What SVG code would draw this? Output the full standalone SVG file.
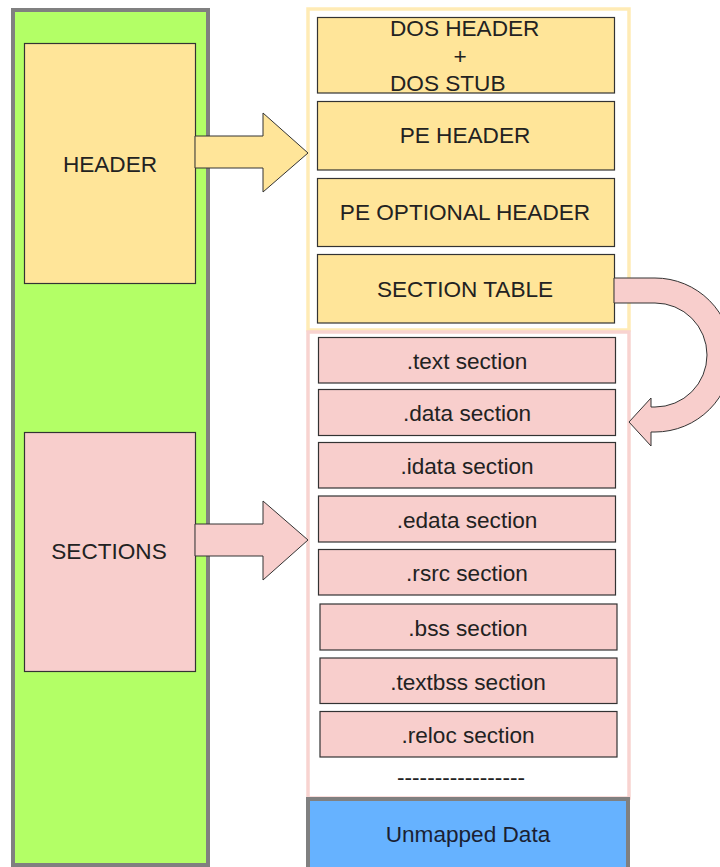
<svg xmlns="http://www.w3.org/2000/svg" width="720" height="867" viewBox="0 0 720 867">
  <style>
    text { font-family: "Liberation Sans", Arial, sans-serif; font-size: 22.6px; fill: #222; text-anchor: middle; }
    .hdr { fill: #ffe599; stroke: #333; stroke-width: 1.2; }
    .sec { fill: #f8cecc; stroke: #333; stroke-width: 1.2; }
    .harrow { fill: #ffe599; stroke: #333; stroke-width: 1; }
    .sarrow { fill: #f8cecc; stroke: #333; stroke-width: 1; }
  </style>

  <!-- file on disk: green column -->
  <g id="file-column">
    <rect x="13" y="10" width="195" height="855" fill="#b3ff66" stroke="#808080" stroke-width="4"/>
  </g>

  <g id="header-block">
    <rect class="hdr" x="24.5" y="43.5" width="171" height="240"/>
    <text x="110" y="172">HEADER</text>
  </g>

  <g id="sections-block">
    <rect class="sec" x="24.5" y="432.5" width="171" height="239"/>
    <text x="109" y="559">SECTIONS</text>
  </g>

  <!-- header breakdown container -->
  <g id="header-container">
    <rect x="308" y="9" width="321" height="321" fill="#fff" stroke="#ffebb5" stroke-width="3.5"/>
  </g>

  <!-- section breakdown container -->
  <g id="sections-container">
    <rect x="308" y="332" width="321" height="466" fill="#fff" stroke="#f8d3d0" stroke-width="3.5"/>
  </g>

  <g id="dos">
    <rect class="hdr" x="317.5" y="17.5" width="297" height="75.5"/>
    <text x="390" y="36" style="text-anchor:start">DOS HEADER</text>
    <text x="460" y="64">+</text>
    <text x="390" y="90.5" style="text-anchor:start">DOS STUB</text>
  </g>

  <g id="pe-header">
    <rect class="hdr" x="317.5" y="101.5" width="297" height="68.5"/>
    <text x="465" y="143">PE HEADER</text>
  </g>

  <g id="pe-optional">
    <rect class="hdr" x="317.5" y="178.5" width="297" height="68"/>
    <text x="465" y="220">PE OPTIONAL HEADER</text>
  </g>

  <g id="section-table">
    <rect class="hdr" x="317.5" y="254.5" width="297" height="68.5"/>
    <text x="465" y="297">SECTION TABLE</text>
  </g>

  <g id="text-section">
    <rect class="sec" x="318.5" y="337.5" width="297" height="45.5"/>
    <text x="467" y="369">.text section</text>
  </g>
  <g id="data-section">
    <rect class="sec" x="318.5" y="389.5" width="297" height="46"/>
    <text x="467" y="421">.data section</text>
  </g>
  <g id="idata-section">
    <rect class="sec" x="318.5" y="442.5" width="297" height="45.5"/>
    <text x="467" y="474">.idata section</text>
  </g>
  <g id="edata-section">
    <rect class="sec" x="318.5" y="496" width="297" height="46"/>
    <text x="467" y="528">.edata section</text>
  </g>
  <g id="rsrc-section">
    <rect class="sec" x="318.5" y="549.5" width="297" height="45.5"/>
    <text x="467" y="581">.rsrc section</text>
  </g>
  <g id="bss-section">
    <rect class="sec" x="320" y="604" width="297" height="46"/>
    <text x="468" y="636">.bss section</text>
  </g>
  <g id="textbss-section">
    <rect class="sec" x="320" y="658" width="297" height="45.5"/>
    <text x="468" y="690">.textbss section</text>
  </g>
  <g id="reloc-section">
    <rect class="sec" x="320" y="711.5" width="297" height="45.5"/>
    <text x="468" y="743">.reloc section</text>
  </g>

  <g id="more">
    <text x="461" y="785">-----------------</text>
  </g>

  <g id="unmapped">
    <rect x="308" y="799" width="320" height="80" fill="#66b2ff" stroke="#808080" stroke-width="4"/>
    <text x="468" y="842" style="fill:#1a1f33">Unmapped Data</text>
  </g>

  <!-- connectors -->
  <g id="connectors">
    <polygon class="harrow" points="195,136 263,136 263,113 308,153 263,192 263,168 195,168"/>
    <polygon class="sarrow" points="195,524 263,524 263,501 308,540 263,580 263,556 195,556"/>
    <path class="sarrow" d="M614,278 L655,278 A77,77 0 0 1 655,432 L651,432 L651,446 L629,422 L651,398 L651,407 L655,407 A52,52 0 0 0 655,303 L614,303 Z"/>
  </g>
</svg>
